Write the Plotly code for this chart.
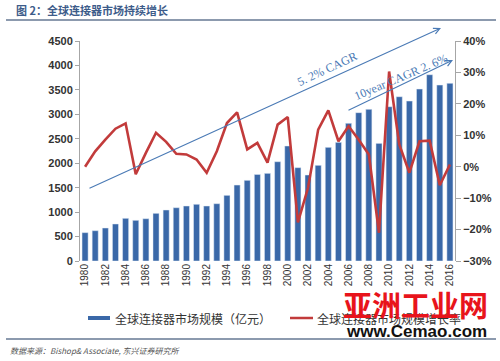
import plotly.graph_objects as go

years = list(range(1980, 2017))
market_size = [580, 620, 675, 757, 873, 832, 865, 975, 1043, 1090, 1125, 1160, 1125, 1172,
               1343, 1554, 1650, 1770, 1793, 2031, 2352, 1909, 1759, 1957, 2325, 2427, 2816,
               3034, 3102, 2406, 3156, 3360, 3272, 3517, 3810, 3599, 3634]
growth_rate = [0, 4.9, 8.6, 12.1, 13.8, -2.4, 4.4, 10.8, 7.9, 4.1, 3.9, 2.3, -1.9, 4.9,
               13.9, 17.3, 5.5, 7.6, 1.3, 13.4, 15.8, -17.7, -6.7, 11.8, 17.9, 8.1, 12.9,
               8.6, 3.9, -21, 30.3, 7.1, -1.9, 8.1, 8.3, -5.9, 0.7]
xtick_years = years[::2]

title_text = "图 2：全球连接器市场持续增长"
bar_name = "全球连接器市场规模（亿元）"
line_name = "全球连接器市场规模增长率"
source_text = "数据来源：Bishop& Associate, 东兴证券研究所"

W, H = 500, 361
L, R, T, B = 80, 455, 41, 261


def px(x):
    return (x - L) / (R - L)


def py(y):
    return (B - y) / (B - T)


BLUE = "#3A68A8"
RED = "#C23B3B"
ARROW = "#4A7AB5"

fig = go.Figure()
fig.add_trace(go.Bar(x=years, y=market_size, marker_color=BLUE, name=bar_name,
                     showlegend=False))
fig.add_trace(go.Scatter(x=years, y=growth_rate, yaxis="y2", mode="lines",
                         line=dict(color=RED, width=2.6), name=line_name,
                         showlegend=False))

annotations = []
shapes = []

# CAGR arrows
dom = dict(xref="x domain", yref="y domain", axref="x domain", ayref="y domain")
annotations.append(dict(x=px(441), y=py(28), ax=px(88), ay=py(189), showarrow=True,
                        arrowhead=5, arrowsize=1.1, arrowwidth=1.1, arrowcolor=ARROW,
                        text="", **dom))
annotations.append(dict(x=px(453), y=py(60), ax=px(347), ay=py(111), showarrow=True,
                        arrowhead=5, arrowsize=1.1, arrowwidth=1.1, arrowcolor=ARROW,
                        text="", **dom))
annotations.append(dict(x=px(327), y=py(69), xref="paper", yref="paper",
                        xanchor="center", yanchor="middle",
                        text="5. 2% CAGR", textangle=-25, showarrow=False,
                        font=dict(family="Liberation Serif", size=12, color=ARROW)))
annotations.append(dict(x=px(401), y=py(77), xref="paper", yref="paper",
                        xanchor="center", yanchor="middle",
                        text="10year CAGR 2. 6%", textangle=-23, showarrow=False,
                        font=dict(family="Liberation Serif", size=12, color=ARROW)))

# Title
annotations.append(dict(x=px(14), y=py(10), xref="paper", yref="paper", text="<b>" + title_text + "</b>",
                        showarrow=False, xanchor="left", yanchor="middle",
                        font=dict(family="Noto Sans CJK SC", size=11, color="#3D5C8A")))
shapes.append(dict(type="line", xref="paper", yref="paper", x0=px(6), x1=px(496),
                   y0=py(20), y1=py(20), line=dict(color="#8C9AAE", width=2)))

# Legend
shapes.append(dict(type="rect", xref="paper", yref="paper", x0=px(88), x1=px(110),
                   y0=py(316), y1=py(320), fillcolor=BLUE, line=dict(width=0)))
annotations.append(dict(x=px(113), y=py(318), xref="paper", yref="paper", text=bar_name,
                        showarrow=False, xanchor="left", yanchor="middle",
                        font=dict(family="Noto Sans CJK SC", size=12, color="#333333")))
shapes.append(dict(type="line", xref="paper", yref="paper", x0=px(290), x1=px(313),
                   y0=py(318), y1=py(318), line=dict(color=RED, width=2.5)))
annotations.append(dict(x=px(315), y=py(318), xref="paper", yref="paper", text=line_name,
                        showarrow=False, xanchor="left", yanchor="middle",
                        font=dict(family="Noto Sans CJK SC", size=12, color="#333333")))

# Bottom rule and source
shapes.append(dict(type="line", xref="paper", yref="paper", x0=px(6), x1=px(496),
                   y0=py(339), y1=py(339), line=dict(color="#8C9AAE", width=2)))
annotations.append(dict(x=px(8), y=py(350), xref="paper", yref="paper",
                        text="<i>" + source_text + "</i>", showarrow=False,
                        xanchor="left", yanchor="middle",
                        font=dict(family="Noto Sans CJK SC", size=8, color="#555555")))

# Watermark
annotations.append(dict(x=px(415), y=py(304), xref="paper", yref="paper",
                        text="<b>亚洲工业网</b>", showarrow=False,
                        xanchor="center", yanchor="middle",
                        font=dict(family="Noto Sans CJK SC", size=29, color="#E8141B")))
annotations.append(dict(x=px(416), y=py(331), xref="paper", yref="paper",
                        text="<b>www.Cemao.com</b>", showarrow=False,
                        xanchor="center", yanchor="middle",
                        font=dict(family="Liberation Sans", size=17, color="#111111")))

fig.update_layout(
    width=W, height=H,
    margin=dict(l=L, r=W - R, t=T, b=H - B, autoexpand=False),
    paper_bgcolor="white", plot_bgcolor="white",
    bargap=0.4,
    xaxis=dict(range=[1979.5, 2016.5], tickmode="array", tickvals=xtick_years,
               ticktext=[str(v) for v in xtick_years], tickangle=-90,
               showgrid=False, zeroline=False, showline=False, ticks="",
               tickfont=dict(family="Liberation Sans", size=10, color="#333333")),
    yaxis=dict(range=[0, 4500], dtick=500, showgrid=False, zeroline=False,
               showline=True, linecolor="#A6A6A6", linewidth=1, ticks="outside",
               ticklen=4, tickcolor="#A6A6A6",
               tickfont=dict(family="Liberation Sans", size=11, color="#333333", weight="bold")),
    yaxis2=dict(range=[-30, 40], dtick=10, ticksuffix="%", overlaying="y", side="right",
                showgrid=False, zeroline=False, showline=True, linecolor="#A6A6A6",
                linewidth=1, ticks="outside", ticklen=5, tickcolor="#A6A6A6",
                tickfont=dict(family="Liberation Sans", size=11, color="#333333", weight="bold")),
    annotations=annotations,
    shapes=shapes,
    showlegend=False,
)

fig.write_html("out.html", config={"displayModeBar": False},
               post_script="document.body.style.margin='0';document.body.style.padding='0';")
